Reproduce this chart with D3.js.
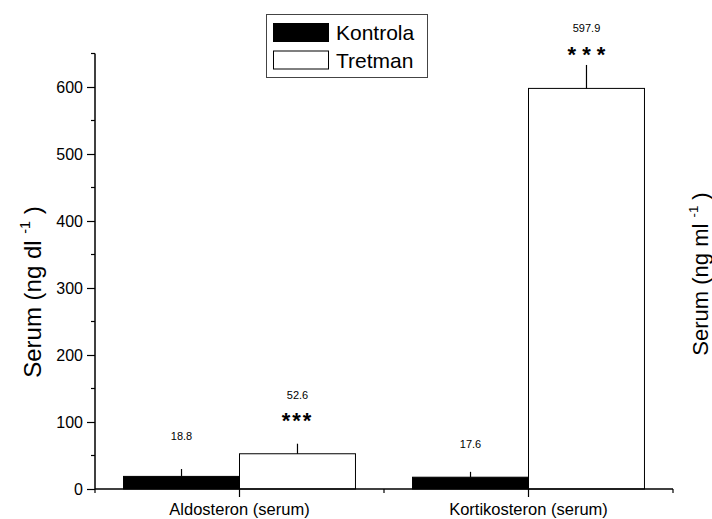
<!DOCTYPE html>
<html><head><meta charset="utf-8">
<script src="https://cdn.jsdelivr.net/npm/d3@7"></script>
<style>
body{margin:0;background:#fff;}
text{font-family:"Liberation Sans",Arial,sans-serif;fill:#000;}
</style></head>
<body>
<svg id="chart" width="712" height="519"></svg>
<script>
const categories = ["Aldosteron (serum)", "Kortikosteron (serum)"];
const seriesNames = ["Kontrola", "Tretman"];
const kontrola = [18.8, 17.6];
const tretman = [52.6, 597.9];
const kontrolaErr = [11, 8];
const tretmanErr = [15, 35];
const kontrolaLabelAt = [73, 61];
const tretmanLabelAt = [134, 682];
const starsAt = [91, 637];
const stars = ["***", "* * *"];
const yTicks = [0, 100, 200, 300, 400, 500, 600];
const yMinor = [50, 150, 250, 350, 450, 550, 650];

const svg = d3.select("#chart");
const x0 = d3.scaleBand().domain(categories).range([95, 673]).paddingInner(0).paddingOuter(0);
const x1 = d3.scaleBand().domain(seriesNames).range([0, x0.bandwidth()]).paddingOuter(0.246).paddingInner(0);
const y = d3.scaleLinear().domain([0, 650]).range([489, 53.5]);

const series = [
  {name: "Kontrola", values: kontrola, err: kontrolaErr, labelAt: kontrolaLabelAt, fill: "#000"},
  {name: "Tretman", values: tretman, err: tretmanErr, labelAt: tretmanLabelAt, fill: "#fff"}
];

// bars
series.forEach(s => {
  const g = svg.append("g");
  categories.forEach((c, i) => {
    const bx = x0(c) + x1(s.name);
    const bw = x1.bandwidth();
    g.append("rect").attr("x", bx).attr("y", y(s.values[i]))
      .attr("width", bw).attr("height", y(0) - y(s.values[i]))
      .attr("fill", s.fill).attr("stroke", "#000").attr("stroke-width", 1);
    const cx = bx + bw / 2;
    g.append("line").attr("x1", cx).attr("x2", cx)
      .attr("y1", y(s.values[i])).attr("y2", y(s.values[i] + s.err[i]))
      .attr("stroke", "#000").attr("stroke-width", 1.2);
    g.append("text").attr("x", cx).attr("y", y(s.labelAt[i]))
      .attr("text-anchor", "middle").attr("font-size", 11).text(s.values[i].toFixed(1));
    if (s.name === "Tretman") {
      g.append("text").attr("x", cx).attr("y", y(starsAt[i]))
        .attr("text-anchor", "middle").attr("font-size", 22).attr("font-weight", "bold")
        .attr("letter-spacing", i === 0 ? 2 : 0).text(stars[i]);
    }
  });
});

// y axis
const yAxis = d3.axisLeft(y).tickValues(yTicks).tickSize(8).tickPadding(4).tickFormat(d3.format("d"));
const gy = svg.append("g").attr("transform", "translate(95,0)").call(yAxis);
gy.select(".domain").attr("d", `M0,${y(0)}V${y(650)}`).attr("stroke-width", 1.5);
gy.selectAll(".tick line").attr("stroke-width", 1.2);
gy.selectAll(".tick text").attr("font-size", 16).attr("font-family", "Liberation Sans, Arial, sans-serif").attr("dy", "0.35em");
svg.append("g").selectAll("line").data(yMinor).join("line")
  .attr("x1", 91).attr("x2", 95).attr("y1", d => y(d)).attr("y2", d => y(d))
  .attr("stroke", "#000").attr("stroke-width", 1.2);

// x axis
const gx = svg.append("g").attr("transform", `translate(0,${y(0)})`);
gx.append("line").attr("x1", 95).attr("x2", 673).attr("y1", 0).attr("y2", 0).attr("stroke", "#000").attr("stroke-width", 1.5);
categories.forEach(c => {
  const cx = x0(c) + x0.bandwidth() / 2;
  gx.append("line").attr("x1", cx).attr("x2", cx).attr("y1", 0).attr("y2", 8).attr("stroke", "#000").attr("stroke-width", 1.2);
  gx.append("text").attr("x", cx).attr("y", 26).attr("text-anchor", "middle").attr("font-size", 16.5).text(c);
});
[...categories.map(c => x0(c)), x0.range()[1]].forEach(bx => {
  gx.append("line").attr("x1", bx).attr("x2", bx).attr("y1", 0).attr("y2", 4).attr("stroke", "#000").attr("stroke-width", 1.2);
});

// axis titles
function title(txt, tx, ty, fs) {
  const t = svg.append("text").attr("transform", `translate(${tx},${ty}) rotate(-90)`).attr("text-anchor", "middle").attr("font-size", fs);
  t.append("tspan").text(txt);
  t.append("tspan").attr("font-size", fs * 0.6).attr("dy", -fs * 0.45).text("-1");
  t.append("tspan").attr("dy", fs * 0.45).text(" )");
}
title("Serum (ng dl ", 41, 292, 24);
title("Serum (ng ml ", 708, 274, 22);

// legend
const lg = svg.append("g");
lg.append("rect").attr("x", 266.5).attr("y", 14.5).attr("width", 161).attr("height", 63)
  .attr("fill", "#fff").attr("stroke", "#444").attr("stroke-width", 1);
series.forEach((s, i) => {
  lg.append("rect").attr("x", 273.5).attr("y", 23.5 + i * 27.5).attr("width", 55).attr("height", 18)
    .attr("fill", s.fill).attr("stroke", "#000").attr("stroke-width", 1);
  lg.append("text").attr("x", 336).attr("y", 40 + i * 27.5).attr("font-size", 21).text(s.name);
});
</script>
</body></html>
